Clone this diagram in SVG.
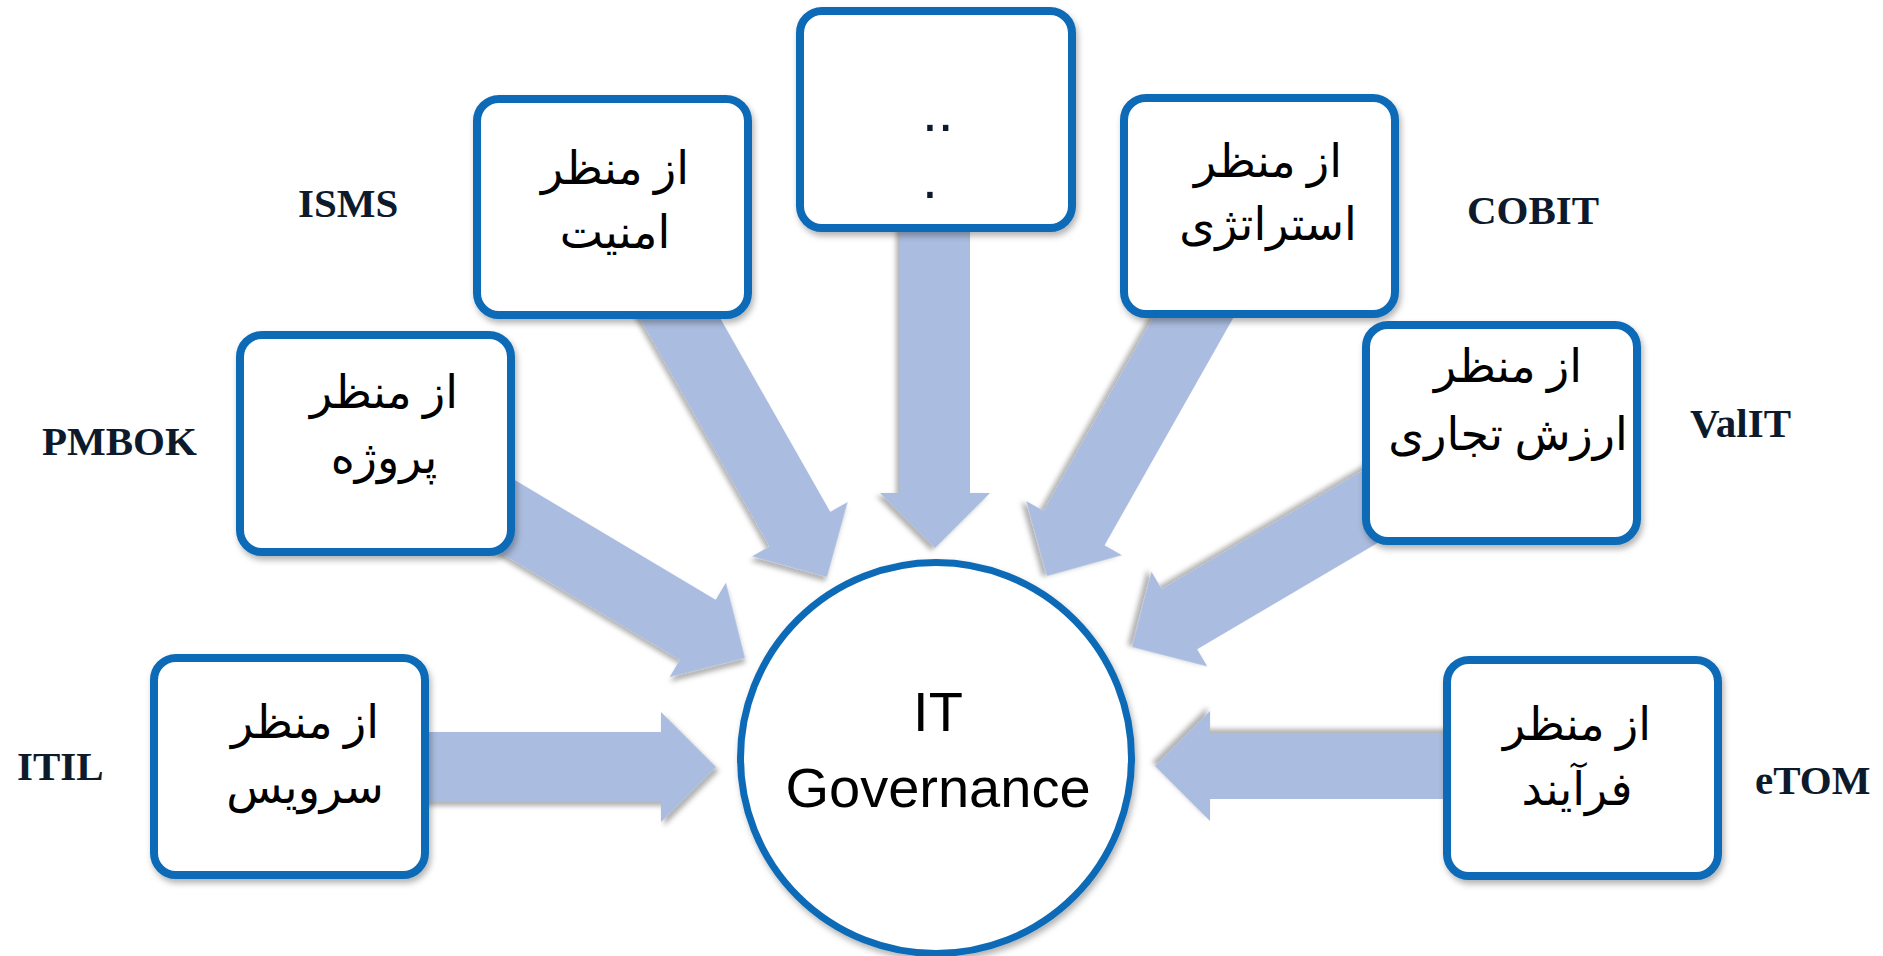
<svg xmlns="http://www.w3.org/2000/svg" width="1883" height="956" viewBox="0 0 1883 956">
<defs>
<filter id="sh" x="-20%" y="-20%" width="140%" height="140%"><feDropShadow dx="3" dy="4" stdDeviation="2.5" flood-color="#000" flood-opacity="0.3"/></filter>
<filter id="shb" x="-10%" y="-10%" width="125%" height="125%"><feDropShadow dx="2" dy="4" stdDeviation="3" flood-color="#000" flood-opacity="0.3"/></filter>
<style>
.arrow{fill:#aabcdf;filter:url(#sh)}
.box{fill:#fff;stroke:#0f6bb6;stroke-width:8;filter:url(#shb)}
.circ{fill:#fff;stroke:#0f6bb6;stroke-width:7;filter:url(#shb)}
.fa{font-family:"Liberation Serif","DejaVu Sans",serif;font-size:46px;fill:#000;text-anchor:middle}
.lbl{font-family:"Liberation Serif","Times New Roman",serif;font-weight:bold;font-size:41px;fill:#0c1a2c}
.en{font-family:"Liberation Sans",Arial,sans-serif;font-size:56px;fill:#000;text-anchor:middle}
.dot{font-family:"Liberation Sans",Arial,sans-serif;font-size:57px;fill:#0c1a2c}
</style>
</defs>
<rect width="1883" height="956" fill="#fff"/>
<g id="connectors">
<path class="arrow" transform="translate(716,767)" d="M0,0 L-55,-55 L-55,-35 L-320,-35 L-320,35 L-55,35 L-55,55 Z"/>
<path class="arrow" transform="translate(1155,766) rotate(180)" d="M0,0 L-55,-55 L-55,-33 L-330,-33 L-330,33 L-55,33 L-55,55 Z"/>
<path class="arrow" transform="translate(935,548) rotate(90)" d="M0,0 L-55,-55 L-55,-35 L-340,-35 L-340,35 L-55,35 L-55,55 Z"/>
<path class="arrow" transform="translate(827,577) rotate(60.4)" d="M0,0 L-55,-55 L-55,-35 L-330,-35 L-330,35 L-55,35 L-55,55 Z"/>
<path class="arrow" transform="translate(1047,576) rotate(119.5)" d="M0,0 L-55,-55 L-55,-35 L-330,-35 L-330,35 L-55,35 L-55,55 Z"/>
<path class="arrow" transform="translate(745,658) rotate(30.8)" d="M0,0 L-55,-55 L-55,-35 L-330,-35 L-330,35 L-55,35 L-55,55 Z"/>
<path class="arrow" transform="translate(1132,647) rotate(149.5)" d="M0,0 L-55,-55 L-55,-35 L-330,-35 L-330,35 L-55,35 L-55,55 Z"/>
</g>
<g id="node-service">
<rect class="box" x="154" y="658" width="271" height="217" rx="22"/>
<text class="fa" x="305" y="738">از منظر</text>
<text class="fa" x="305" y="803">سرویس</text>
</g>
<g id="node-project">
<rect class="box" x="240" y="335" width="271" height="217" rx="22"/>
<text class="fa" x="384" y="408">از منظر</text>
<text class="fa" x="384" y="473">پروژه</text>
</g>
<g id="node-security">
<rect class="box" x="477" y="99" width="271" height="216" rx="22"/>
<text class="fa" x="615" y="184">از منظر</text>
<text class="fa" x="615" y="248">امنیت</text>
</g>
<g id="node-dots">
<rect class="box" x="800" y="11" width="272" height="217" rx="22"/>
<text class="dot" x="922" y="131">..</text>
<text class="dot" x="922" y="198">.</text>
</g>
<g id="node-strategy">
<rect class="box" x="1124" y="98" width="271" height="216" rx="22"/>
<text class="fa" x="1268" y="177">از منظر</text>
<text class="fa" x="1268" y="240">استراتژی</text>
</g>
<g id="node-value">
<rect class="box" x="1366" y="325" width="271" height="216" rx="22"/>
<text class="fa" x="1508" y="382">از منظر</text>
<text class="fa" x="1508" y="450">ارزش تجاری</text>
</g>
<g id="node-process">
<rect class="box" x="1447" y="660" width="271" height="216" rx="22"/>
<text class="fa" x="1577" y="740">از منظر</text>
<text class="fa" x="1577" y="805">فرآیند</text>
</g>
<g id="node-itgov">
<circle class="circ" cx="936" cy="758" r="195.5"/>
<text class="en" x="938" y="731">IT</text>
<text class="en" x="938" y="807">Governance</text>
</g>
<g id="labels">
<text class="lbl" x="17" y="780">ITIL</text>
<text class="lbl" x="42" y="455">PMBOK</text>
<text class="lbl" x="298" y="217">ISMS</text>
<text class="lbl" x="1467" y="224">COBIT</text>
<text class="lbl" x="1690" y="437">ValIT</text>
<text class="lbl" x="1755" y="794">eTOM</text>
</g>
</svg>
